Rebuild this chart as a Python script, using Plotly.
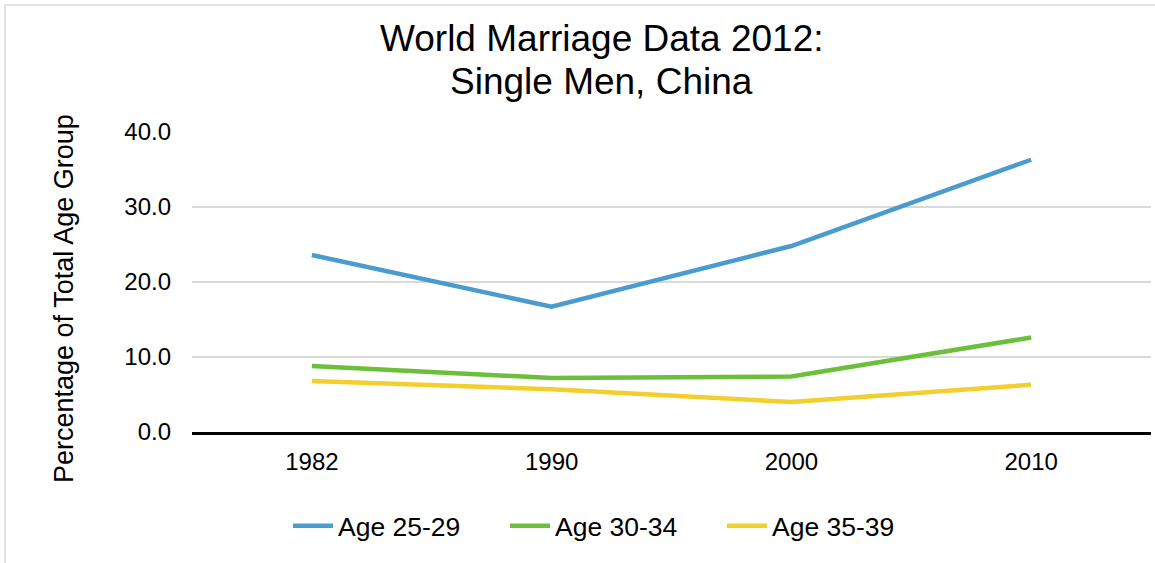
import plotly.graph_objects as go

years = ["1982", "1990", "2000", "2010"]
age_25_29 = [23.6, 16.7, 24.8, 36.3]
age_30_34 = [8.8, 7.2, 7.4, 12.6]
age_35_39 = [6.8, 5.7, 4.0, 6.3]

series = [
    ("Age 25-29", age_25_29, "#4A9BD0"),
    ("Age 30-34", age_30_34, "#6CBF3A"),
    ("Age 35-39", age_35_39, "#F2CF2C"),
]

title_lines = ["World Marriage Data 2012:", "Single Men, China"]
y_title = "Percentage of Total Age Group"

W, H = 1155, 563
L, R, T, B = 192, 4, 132, 131
PW, PH = W - L - R, H - T - B


def px_x(x):
    return (x - L) / PW


def px_y(y):
    return (H - B - y) / PH


fig = go.Figure()
for name, values, color in series:
    fig.add_trace(
        go.Scatter(
            x=years,
            y=values,
            name=name,
            mode="lines",
            line=dict(color=color, width=4.5),
        )
    )

font = "Liberation Sans, Arial, sans-serif"

fig.update_layout(
    width=W,
    height=H,
    margin=dict(l=L, r=R, t=T, b=B, autoexpand=False),
    paper_bgcolor="white",
    plot_bgcolor="white",
    font=dict(family=font, color="black", size=24),
    legend=dict(
        orientation="h",
        x=288 / W,
        xref="container",
        xanchor="left",
        y=1 - 526 / H,
        yref="container",
        yanchor="middle",
        font=dict(size=26.5),
        entrywidth=162,
        entrywidthmode="pixels",
        itemwidth=40,
    ),
    showlegend=True,
)

# two-line chart title
for text, yc in zip(title_lines, [38, 81]):
    fig.add_annotation(
        text=text,
        xref="paper",
        yref="paper",
        x=px_x(601.5),
        y=px_y(yc),
        xanchor="center",
        yanchor="middle",
        showarrow=False,
        font=dict(size=37, color="black"),
    )

# y-axis title
fig.add_annotation(
    text=y_title,
    xref="paper",
    yref="paper",
    x=px_x(64),
    y=px_y(299),
    xanchor="center",
    yanchor="middle",
    textangle=-90,
    showarrow=False,
    font=dict(size=27, color="black"),
)

fig.update_xaxes(
    type="category",
    range=[-0.5, 3.5],
    showgrid=False,
    showline=True,
    linecolor="black",
    linewidth=2.5,
    ticks="",
    ticklabelstandoff=6,
    automargin=False,
)
fig.update_yaxes(
    range=[0, 40],
    dtick=10,
    tickformat=".1f",
    showgrid=True,
    gridcolor="#D9D9D9",
    gridwidth=1.5,
    zeroline=False,
    showline=False,
    ticks="",
    ticklabelstandoff=20,
    automargin=False,
)

# outer chart border
fig.add_shape(
    type="rect",
    xref="paper",
    yref="paper",
    x0=px_x(5),
    x1=px_x(1165),
    y0=px_y(575),
    y1=px_y(5),
    line=dict(color="#D9D9D9", width=1.5),
    layer="below",
)

fig.write_html(
    "out.html",
    config={"displayModeBar": False},
    post_script="document.body.style.margin='0';",
)
